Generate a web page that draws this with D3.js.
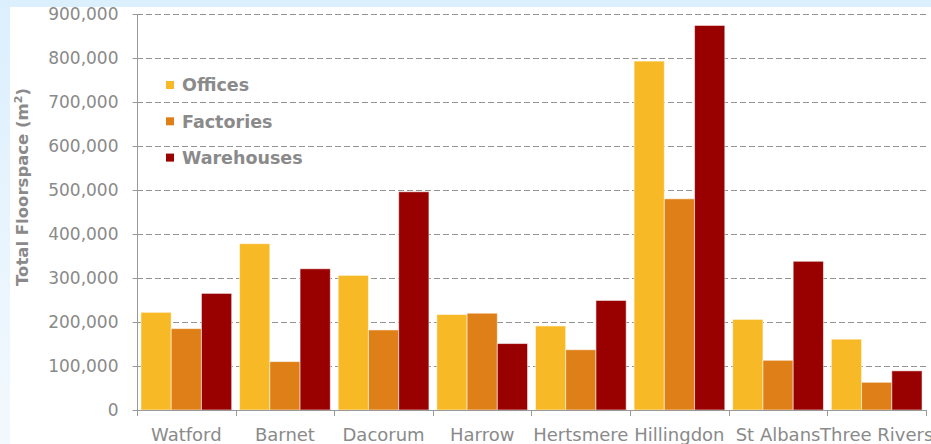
<!DOCTYPE html>
<html>
<head>
<meta charset="utf-8">
<script src="https://cdn.jsdelivr.net/npm/d3@7"></script>
<style>
  html, body { margin: 0; padding: 0; }
  body { width: 931px; height: 444px; overflow: hidden; }
</style>
</head>
<body>
<svg id="chart" width="931" height="444"></svg>
<script>
const categories = ["Watford", "Barnet", "Dacorum", "Harrow", "Hertsmere", "Hillingdon", "St Albans", "Three Rivers"];
const seriesNames = ["Offices", "Factories", "Warehouses"];
const offices    = [222000, 378000, 306000, 217000, 191000, 793000, 206000, 161000];
const factories  = [185000, 110000, 182000, 220000, 137000, 480000, 113000, 63000];
const warehouses = [265000, 321000, 496000, 151000, 249000, 874000, 338000, 89000];
const yTicks = [0, 100000, 200000, 300000, 400000, 500000, 600000, 700000, 800000, 900000];
const colors = ["#f7b926", "#de7f17", "#990000"];

(function () {
const seriesValues = [offices, factories, warehouses];
const data = categories.map((c, i) => ({ cat: c, vals: seriesValues.map((s, j) => ({ name: seriesNames[j], v: s[i], color: colors[j] })) }));

const svg = d3.select("#chart");

// background frame
const defs = svg.append("defs");
const grad = defs.append("linearGradient").attr("id", "bg").attr("x1", 0).attr("y1", 0).attr("x2", 0).attr("y2", 1);
grad.append("stop").attr("offset", "0%").attr("stop-color", "#dbeffd");
grad.append("stop").attr("offset", "100%").attr("stop-color", "#f3f9fe");
svg.append("rect").attr("width", 931).attr("height", 444).attr("fill", "url(#bg)");
svg.append("rect").attr("x", 10).attr("y", 7).attr("width", 921).attr("height", 437).attr("fill", "#ffffff");

const pL = 137, pR = 926, pT = 14, pB = 410;

const y = d3.scaleLinear().domain([0, 900000]).range([pB, pT]);
const x0 = d3.scaleBand().domain(categories).range([pL, pR]).paddingInner(0.08).paddingOuter(0.04);
const x1 = d3.scaleBand().domain(seriesNames).range([0, x0.bandwidth()]);
const step = x0.step();

// gridlines
svg.append("g").selectAll("line").data(yTicks.filter(t => t > 0)).join("line")
  .attr("x1", pL).attr("x2", pR)
  .attr("y1", d => Math.round(y(d)) + 0.5).attr("y2", d => Math.round(y(d)) + 0.5)
  .attr("stroke", "#939393").attr("stroke-width", 1).attr("stroke-dasharray", "6,3");

// y axis
const yAxis = d3.axisLeft(y).tickValues(yTicks).tickSize(5).tickPadding(14).tickFormat(d3.format(","));
const gy = svg.append("g").attr("transform", `translate(${pL + 0.5},0)`).call(yAxis);
gy.select(".domain").attr("stroke", "#999").attr("d", `M0,${pT}V${pB}`);
gy.selectAll(".tick line").attr("stroke", "#999");
gy.selectAll(".tick text").attr("fill", "#8a8a8a").style("font-family", "DejaVu Sans").style("font-size", "17px");

// bars
const groups = svg.append("g").selectAll("g").data(data).join("g")
  .attr("transform", d => `translate(${x0(d.cat)},0)`);
groups.selectAll("rect").data(d => d.vals).join("rect")
  .attr("x", d => x1(d.name))
  .attr("width", x1.bandwidth())
  .attr("y", d => y(d.v))
  .attr("height", d => y(0) - y(d.v))
  .attr("fill", d => d.color)
  .attr("stroke", "rgba(255,255,255,0.55)").attr("stroke-width", 1);

// x axis line + boundary ticks
const gx = svg.append("g");
gx.append("line").attr("x1", pL).attr("x2", pR).attr("y1", pB + 0.5).attr("y2", pB + 0.5)
  .attr("stroke", "#999").attr("stroke-width", 1.2);
const boundaries = categories.map(c => x0(c) - step * x0.paddingInner() / 2).concat([pR]);
gx.selectAll("line.tk").data(boundaries).join("line").attr("class", "tk")
  .attr("x1", d => Math.round(d) + 0.5).attr("x2", d => Math.round(d) + 0.5)
  .attr("y1", pB).attr("y2", pB + 6).attr("stroke", "#999");
gx.selectAll("text").data(categories).join("text")
  .attr("x", d => x0(d) + x0.bandwidth() / 2)
  .attr("y", 441)
  .attr("text-anchor", "middle")
  .attr("fill", "#8a8a8a")
  .style("font-family", "DejaVu Sans").style("font-size", "18px")
  .text(d => d);

// y title
const title = svg.append("text")
  .attr("transform", `translate(28,187) rotate(-90)`)
  .attr("text-anchor", "middle")
  .attr("fill", "#8a8a8a")
  .style("font-family", "DejaVu Sans").style("font-size", "16.5px").style("font-weight", "bold");
title.append("tspan").text("Total Floorspace (m");
title.append("tspan").attr("baseline-shift", "super").style("font-size", "11px").text("2");
title.append("tspan").text(")");

// legend
const legend = svg.append("g").selectAll("g").data(seriesNames).join("g")
  .attr("transform", (d, i) => `translate(166,${85 + i * 36.3})`);
legend.append("rect").attr("x", 0).attr("y", -4).attr("width", 8).attr("height", 8)
  .attr("fill", (d, i) => colors[i]);
legend.append("text").attr("x", 16).attr("y", 0).attr("dy", "0.36em")
  .attr("fill", "#8a8a8a")
  .style("font-family", "DejaVu Sans").style("font-size", "17.5px").style("font-weight", "bold")
  .text(d => d);
})();
</script>
</body>
</html>
